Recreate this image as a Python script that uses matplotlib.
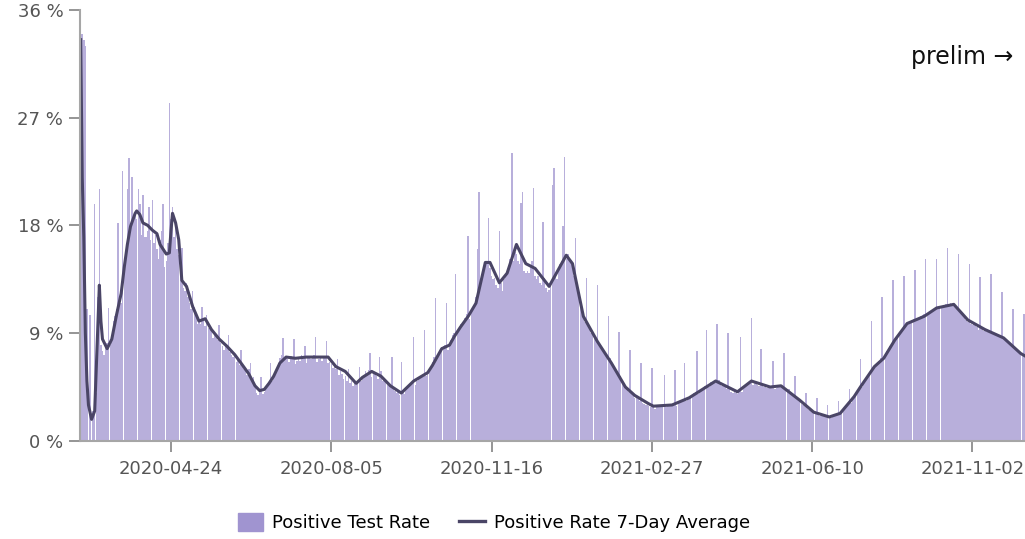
import matplotlib.pyplot as plt
import numpy as np
from matplotlib.patches import Patch
from matplotlib.lines import Line2D

# daily positive test rate (%), one row per week
rate_weeks = [
    [34.0, 34.0, 33.5, 33.0, 11.0, 0.0, 10.5],
    [0.0, 2.5, 19.8, 4.0, 12.0, 21.0, 8.0],
    [7.5, 7.2, 7.8, 8.2, 11.1, 8.0, 8.6],
    [10.0, 10.4, 11.0, 18.2, 12.0, 11.5, 22.5],
    [14.0, 15.5, 21.0, 23.6, 17.5, 22.0, 18.5],
    [19.0, 18.5, 21.0, 19.8, 17.2, 20.5, 17.0],
    [17.0, 17.5, 19.5, 16.8, 20.1, 16.5, 17.2],
    [16.0, 15.2, 16.8, 17.5, 19.8, 14.5, 15.0],
    [16.5, 28.2, 18.5, 19.5, 17.0, 18.2, 16.0],
    [15.5, 14.0, 16.1, 12.8, 12.5, 13.2, 12.0],
    [11.5, 11.0, 12.5, 11.2, 10.5, 9.8, 10.2],
    [9.8, 11.2, 10.0, 9.6, 10.5, 9.4, 9.5],
    [9.2, 8.6, 9.0, 8.8, 8.4, 9.7, 8.2],
    [7.9, 7.6, 8.1, 7.8, 8.8, 7.4, 7.2],
    [7.0, 7.2, 6.6, 6.8, 6.3, 7.6, 6.2],
    [6.0, 5.8, 5.5, 6.0, 6.5, 5.2, 5.3],
    [4.6, 4.0, 3.8, 4.3, 5.3, 3.9, 4.1],
    [4.5, 4.7, 4.9, 6.5, 5.0, 5.3, 5.6],
    [6.0, 6.5, 6.9, 7.2, 8.6, 6.8, 7.0],
    [6.8, 6.6, 7.1, 7.0, 8.5, 6.4, 6.7],
    [6.9, 6.7, 7.2, 6.8, 7.9, 6.5, 6.9],
    [7.0, 6.8, 7.1, 7.2, 8.7, 6.6, 6.8],
    [6.9, 6.7, 7.0, 7.1, 8.3, 6.5, 6.6],
    [6.4, 6.1, 6.2, 6.0, 6.8, 5.5, 5.8],
    [5.6, 5.2, 5.4, 5.0, 6.0, 4.8, 5.0],
    [4.6, 4.8, 4.7, 5.0, 6.2, 5.0, 5.3],
    [5.4, 5.8, 5.5, 5.9, 7.3, 5.3, 5.6],
    [5.6, 5.4, 5.2, 7.0, 5.8, 5.0, 5.1],
    [4.9, 4.7, 4.6, 4.5, 7.0, 4.3, 4.2],
    [4.0, 4.1, 3.8, 6.6, 4.2, 3.9, 4.3],
    [4.4, 4.6, 4.8, 4.9, 8.7, 4.7, 5.0],
    [5.2, 5.4, 5.5, 5.3, 9.3, 5.4, 5.6],
    [5.9, 6.2, 6.6, 7.0, 11.9, 7.1, 7.4],
    [7.5, 7.8, 7.9, 8.0, 11.5, 7.6, 8.1],
    [8.4, 8.8, 9.0, 13.9, 9.2, 9.4, 9.8],
    [9.8, 10.0, 10.3, 10.6, 17.1, 10.2, 10.8],
    [11.0, 11.4, 12.0, 16.0, 20.8, 13.0, 13.8],
    [14.2, 14.6, 15.0, 18.6, 14.4, 13.8, 13.5],
    [13.6, 13.0, 12.8, 17.5, 13.2, 12.5, 13.5],
    [13.8, 14.0, 14.6, 15.2, 24.0, 15.0, 15.8],
    [15.6, 15.0, 14.8, 19.9, 20.8, 14.2, 14.0],
    [14.2, 14.0, 14.6, 15.0, 21.1, 13.8, 13.5],
    [13.8, 13.2, 13.0, 18.3, 13.6, 12.8, 12.4],
    [12.6, 13.0, 21.4, 22.8, 14.0, 13.5, 14.2],
    [14.8, 15.0, 17.9, 23.7, 15.2, 15.6, 15.0],
    [15.0, 14.5, 13.8, 16.9, 13.0, 12.0, 11.4],
    [10.8, 10.2, 9.9, 13.6, 9.8, 9.4, 9.0],
    [8.8, 8.5, 8.4, 13.0, 8.2, 7.9, 7.6],
    [7.6, 7.4, 7.1, 10.4, 6.9, 6.6, 6.3],
    [6.0, 5.8, 5.6, 9.1, 5.4, 5.0, 4.8],
    [4.5, 4.3, 4.1, 7.6, 4.0, 3.8, 3.6],
    [3.7, 3.5, 3.3, 6.5, 3.2, 3.1, 3.0],
    [3.0, 2.9, 2.8, 6.1, 2.9, 2.7, 2.8],
    [2.8, 2.9, 2.8, 3.0, 5.5, 2.8, 2.9],
    [3.0, 2.9, 3.1, 3.0, 5.9, 2.9, 3.2],
    [3.2, 3.3, 3.4, 6.5, 3.3, 3.5, 3.6],
    [3.7, 3.8, 4.0, 4.1, 7.5, 3.9, 4.2],
    [4.3, 4.4, 4.6, 9.3, 4.7, 4.5, 4.9],
    [4.9, 5.0, 4.8, 9.8, 5.1, 4.7, 4.6],
    [4.7, 4.5, 4.3, 9.0, 4.4, 4.1, 4.0],
    [4.1, 4.0, 3.9, 4.2, 8.7, 4.1, 4.3],
    [4.5, 4.7, 4.9, 4.8, 10.3, 4.7, 4.9],
    [4.9, 4.7, 4.6, 7.7, 4.8, 4.5, 4.6],
    [4.4, 4.6, 4.5, 4.6, 6.7, 4.3, 4.4],
    [4.5, 4.6, 4.7, 4.5, 7.3, 4.4, 4.3],
    [4.3, 4.1, 4.0, 3.8, 5.4, 3.6, 3.5],
    [3.3, 3.1, 3.0, 2.9, 4.0, 2.7, 2.6],
    [2.6, 2.5, 2.3, 2.4, 3.6, 2.2, 2.1],
    [2.2, 2.1, 2.0, 2.0, 3.0, 1.9, 1.9],
    [2.0, 2.1, 2.2, 2.2, 3.3, 2.3, 2.4],
    [2.6, 2.8, 3.0, 3.1, 4.3, 3.2, 3.4],
    [3.7, 3.9, 4.2, 4.4, 6.8, 4.5, 4.8],
    [5.0, 5.3, 5.5, 5.7, 10.0, 5.9, 6.1],
    [6.3, 6.5, 6.7, 6.9, 12.0, 7.0, 7.3],
    [7.5, 7.7, 7.9, 8.1, 13.4, 8.3, 8.6],
    [8.8, 9.0, 9.2, 9.4, 13.8, 9.6, 9.8],
    [9.9, 10.0, 10.1, 10.2, 14.3, 10.1, 10.3],
    [10.3, 10.4, 10.5, 10.6, 15.2, 10.4, 10.7],
    [10.8, 10.9, 11.0, 11.1, 15.2, 11.0, 11.2],
    [11.1, 11.2, 11.3, 11.4, 16.1, 11.3, 11.5],
    [11.4, 11.3, 11.2, 11.0, 15.6, 10.9, 10.7],
    [10.6, 10.3, 10.1, 9.9, 14.8, 9.8, 9.7],
    [9.8, 9.6, 9.5, 9.3, 13.7, 9.4, 9.2],
    [9.3, 9.1, 9.2, 9.0, 13.9, 8.9, 8.8],
    [8.9, 8.8, 8.7, 8.6, 12.4, 8.5, 8.4],
    [8.4, 8.2, 8.0, 7.9, 11.0, 7.8, 7.6],
    [7.6, 7.4, 7.2, 7.1, 10.6, 7.0, 6.9],
]

# 7-day average (day index, %)
avg_day = [0, 1, 2, 3, 4, 5, 7, 9, 10, 12, 13, 14, 17, 20, 23, 26, 28, 30, 32, 35,
           36, 38, 40, 43, 46, 49, 51, 55, 57, 58, 59, 61, 63, 65, 68, 72, 76, 80,
           84, 89, 94, 99, 103, 108, 112, 115, 118, 121, 124, 128, 132, 138, 145,
           152, 159, 164, 170, 177, 181, 187, 193, 199, 206, 214, 223, 226, 232,
           237, 240, 244, 249, 254, 260, 263, 269, 274, 280, 286, 292, 301, 312,
           316, 323, 332, 341, 350, 356, 365, 368, 380, 391, 408, 422, 431, 443,
           450, 462, 471, 481, 488, 497, 501, 510, 516, 523, 531, 542, 550, 561,
           570, 581, 593, 604, 608]
avg_val = [33.5, 22.0, 17.0, 9.0, 5.0, 3.0, 1.8, 2.5, 6.0, 13.0, 10.0, 8.5, 7.7,
           8.5, 10.5, 12.3, 14.5, 16.4, 17.9, 19.0, 19.2, 18.9, 18.2, 18.0, 17.6,
           17.3, 16.4, 15.6, 15.7, 17.5, 19.0, 18.2, 16.8, 13.4, 12.9, 11.2, 10.0,
           10.2, 9.3, 8.5, 7.9, 7.2, 6.5, 5.6, 4.6, 4.2, 4.3, 4.8, 5.4, 6.5, 7.0,
           6.9, 7.0, 7.0, 7.0, 6.2, 5.8, 4.8, 5.3, 5.8, 5.4, 4.6, 4.0, 5.0, 5.7,
           6.3, 7.7, 8.0, 8.7, 9.5, 10.4, 11.5, 14.9, 14.9, 13.2, 14.0, 16.4, 14.8,
           14.4, 12.9, 15.5, 14.8, 10.4, 8.3, 6.5, 4.5, 3.8, 3.1, 2.9, 3.0, 3.6,
           5.0, 4.1, 5.0, 4.5, 4.6, 3.4, 2.4, 2.0, 2.3, 3.7, 4.5, 6.2, 6.9, 8.4,
           9.8, 10.4, 11.1, 11.4, 10.1, 9.3, 8.6, 7.3, 7.0]

tick_pos = [58, 161, 264, 367, 470, 573]
tick_labels = ["2020-04-24", "2020-08-05", "2020-11-16", "2021-02-27",
               "2021-06-10", "2021-11-02"]
y_ticks = [0, 9, 18, 27, 36]

rate = np.concatenate(rate_weeks)
days = np.arange(len(rate))

plt.rcParams['font.family'] = ['DejaVu Sans']
fig = plt.figure(figsize=(10.25, 5.39), dpi=100)
ax = fig.add_axes([0.078, 0.182, 1.0, 0.80])

bar_col = '#a094d0'
line_col = '#4a4566'
ax.bar(days, rate, width=0.95, color=bar_col, alpha=0.75, linewidth=0)
ax.plot(avg_day, avg_val, color=line_col, linewidth=2.2, solid_joinstyle='round')

ax.set_xlim(-0.47, -0.47 + 1.0 * 1025 / 1.5563)
ax.set_ylim(0, 36)
ax.set_xticks(tick_pos)
ax.set_xticklabels(tick_labels)
ax.set_yticks(y_ticks)
ax.set_yticklabels([f"{v} %" for v in y_ticks])

for s in ['top', 'right']:
    ax.spines[s].set_visible(False)
for s in ['left', 'bottom']:
    ax.spines[s].set_color('#a6a6a6')
    ax.spines[s].set_linewidth(1.5)
ax.tick_params(axis='both', colors='#8c8c8c', labelcolor='#555555',
               labelsize=13, length=8, width=1.3)
ax.tick_params(axis='y', pad=4)
ax.tick_params(axis='x', pad=6)

handles = [Patch(color=bar_col, label='Positive Test Rate'),
           Line2D([0], [0], color=line_col, lw=2.4, label='Positive Rate 7-Day Average')]
fig.legend(handles=handles, loc='center', bbox_to_anchor=(0.482, 0.03), ncol=2,
           frameon=False, fontsize=13, handlelength=1.4, handleheight=1.1,
           columnspacing=1.6, handletextpad=0.5)

fig.text(911 / 1025, 1 - 57 / 539, 'prelim \u2192', fontsize=17, ha='left',
         va='center', color='#111111')

fig.savefig('out.png', dpi=100)
